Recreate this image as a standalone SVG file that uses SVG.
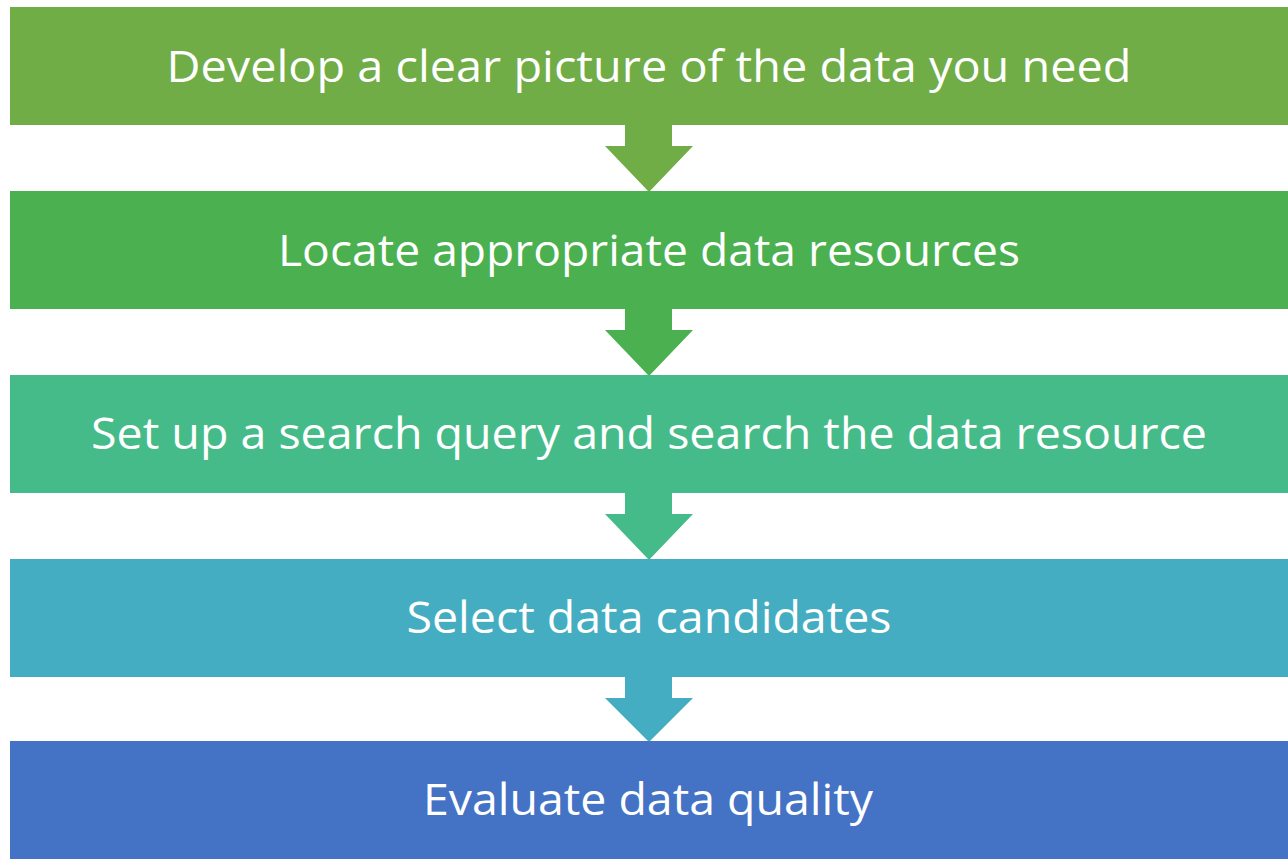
<svg xmlns="http://www.w3.org/2000/svg" width="1288" height="859" viewBox="0 0 1288 859">
<style>
.lbl{font-family:"Open Sans","Liberation Sans",sans-serif;font-size:43px;fill:#FFFFFF;text-anchor:middle}
</style>
<rect x="0" y="0" width="1288" height="859" fill="#FFFFFF"/>
<g id="connectors">
<path d="M625,125 H672 V146 H693 L649,192 L605,146 H625 Z" fill="#70AD47"/>
<path d="M625,309 H672 V330 H693 L649,376 L605,330 H625 Z" fill="#4BB04F"/>
<path d="M625,493 H672 V514 H693 L649,560 L605,514 H625 Z" fill="#46BB8A"/>
<path d="M625,677 H672 V698 H693 L649,742 L605,698 H625 Z" fill="#45ADC1"/>
</g>
<g id="n1"><rect x="10" y="7" width="1278" height="118" fill="#70AD47"/><text class="lbl" x="649" y="82" textLength="965" lengthAdjust="spacingAndGlyphs">Develop a clear picture of the data you need</text></g>
<g id="n2"><rect x="10" y="191" width="1278" height="118" fill="#4BB04F"/><text class="lbl" x="649" y="266" textLength="742" lengthAdjust="spacingAndGlyphs">Locate appropriate data resources</text></g>
<g id="n3"><rect x="10" y="375" width="1278" height="118" fill="#46BB8A"/><text class="lbl" x="649" y="449" textLength="1116" lengthAdjust="spacingAndGlyphs">Set up a search query and search the data resource</text></g>
<g id="n4"><rect x="10" y="559" width="1278" height="118" fill="#45ADC1"/><text class="lbl" x="649" y="633" textLength="485" lengthAdjust="spacingAndGlyphs">Select data candidates</text></g>
<g id="n5"><rect x="10" y="741" width="1278" height="118" fill="#4472C4"/><text class="lbl" x="648" y="815" textLength="450" lengthAdjust="spacingAndGlyphs">Evaluate data quality</text></g>
</svg>
